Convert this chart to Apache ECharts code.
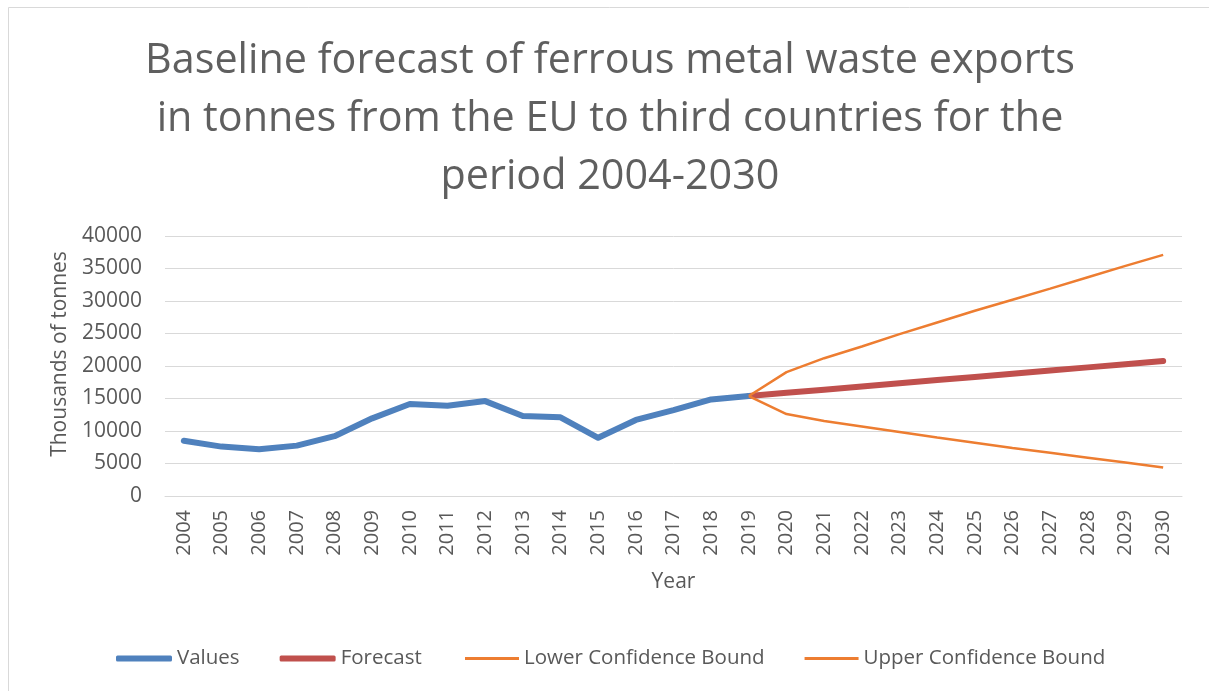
<!DOCTYPE html>
<html>
<head>
<meta charset="utf-8">
<script src="https://cdn.jsdelivr.net/npm/echarts@6/dist/echarts.min.js"></script>
<style>
html,body{margin:0;padding:0;background:#fff;}
#chart{width:1209px;height:691px;}
</style>
</head>
<body>
<div id="chart"></div>
<script>
const years = ['2004','2005','2006','2007','2008','2009','2010','2011','2012','2013','2014','2015','2016','2017','2018','2019','2020','2021','2022','2023','2024','2025','2026','2027','2028','2029','2030'];
const values = [8500, 7600, 7200, 7750, 9200, 11950, 14150, 13900, 14600, 12300, 12100, 8950, 11700, 13200, 14850, 15380];
const forecast = [15380, 15870, 16360, 16850, 17340, 17830, 18320, 18810, 19300, 19790, 20280, 20770];
const lowerBound = [15380, 12600, 11550, 10700, 9850, 9000, 8200, 7400, 6650, 5900, 5150, 4400];
const upperBound = [15380, 19050, 21200, 23000, 24900, 26700, 28500, 30200, 31900, 33650, 35400, 37100];
const yTicks = [0, 40000, 5000];

const FONT = 'Open Sans';
const GREY = '#595959';
const pad = (arr, start) => years.map((y, i) => (i >= start && i - start < arr.length) ? arr[i - start] : null);
const fStart = years.indexOf('2019');

const chart = echarts.init(document.getElementById('chart'), null, {renderer: 'canvas'});
chart.setOption({
  animation: false,
  backgroundColor: '#ffffff',
  textStyle: {fontFamily: FONT},
  title: {
    text: 'Baseline forecast of ferrous metal waste exports\nin tonnes from the EU to third countries for the\nperiod 2004-2030',
    left: 610,
    textAlign: 'center',
    top: 32,
    padding: 0,
    textStyle: {fontFamily: FONT, fontSize: 41.3, fontWeight: 'normal', color: '#5f5f5f', lineHeight: 58, align: 'center'}
  },
  graphic: [
    {type: 'rect', shape: {x: 8.5, y: 7.5, width: 1300, height: 800}, style: {fill: 'none', stroke: '#d9d9d9', lineWidth: 1}, silent: true, z: -1},
    {type: 'text', x: 60, y: 354, rotation: Math.PI / 2, style: {text: 'Thousands of tonnes', fontFamily: FONT, fontSize: 21, fill: GREY, align: 'center', verticalAlign: 'middle'}}
  ],
  grid: {left: 165, right: 27, top: 236, height: 260, containLabel: false},
  legend: [
    {
      data: ['Values', 'Forecast'],
      left: 116, top: 648, padding: 0,
      icon: 'roundRect', itemWidth: 56, itemHeight: 6, itemGap: 40,
      textStyle: {fontFamily: FONT, fontSize: 20.5, color: GREY}
    },
    {
      data: ['Lower Confidence Bound', 'Upper Confidence Bound'],
      left: 465, top: 648, padding: 0,
      icon: 'rect', itemWidth: 54, itemHeight: 3, itemGap: 40,
      textStyle: {fontFamily: FONT, fontSize: 20.5, color: GREY}
    }
  ],
  xAxis: {
    type: 'category',
    data: years,
    boundaryGap: true,
    name: 'Year',
    nameLocation: 'middle',
    nameGap: 76,
    nameTextStyle: {fontFamily: FONT, fontSize: 21, color: GREY},
    axisLine: {show: true, lineStyle: {color: '#d9d9d9', width: 1}},
    axisTick: {show: false},
    axisLabel: {rotate: 90, margin: 14, fontFamily: FONT, fontSize: 20, color: GREY, interval: 0}
  },
  yAxis: {
    type: 'value',
    min: yTicks[0], max: yTicks[1], interval: yTicks[2],
    axisLine: {show: false},
    axisTick: {show: false},
    splitLine: {lineStyle: {color: '#d9d9d9', width: 1}},
    axisLabel: {margin: 23, fontFamily: FONT, fontSize: 21, color: GREY, formatter: v => String(v)}
  },
  series: [
    {name: 'Values', type: 'line', data: pad(values, 0), showSymbol: false, symbol: 'none',
     lineStyle: {color: '#4F81BD', width: 6, cap: 'round', join: 'round'}, itemStyle: {color: '#4F81BD'}, z: 3},
    {name: 'Forecast', type: 'line', data: pad(forecast, fStart), showSymbol: false, symbol: 'none',
     lineStyle: {color: '#C0504D', width: 6, cap: 'round', join: 'round'}, itemStyle: {color: '#C0504D'}, z: 2},
    {name: 'Lower Confidence Bound', type: 'line', data: pad(lowerBound, fStart), showSymbol: false, symbol: 'none',
     lineStyle: {color: '#ED7D31', width: 2.5}, itemStyle: {color: '#ED7D31'}, z: 4},
    {name: 'Upper Confidence Bound', type: 'line', data: pad(upperBound, fStart), showSymbol: false, symbol: 'none',
     lineStyle: {color: '#ED7D31', width: 2.5}, itemStyle: {color: '#ED7D31'}, z: 4}
  ]
});
</script>
</body>
</html>
